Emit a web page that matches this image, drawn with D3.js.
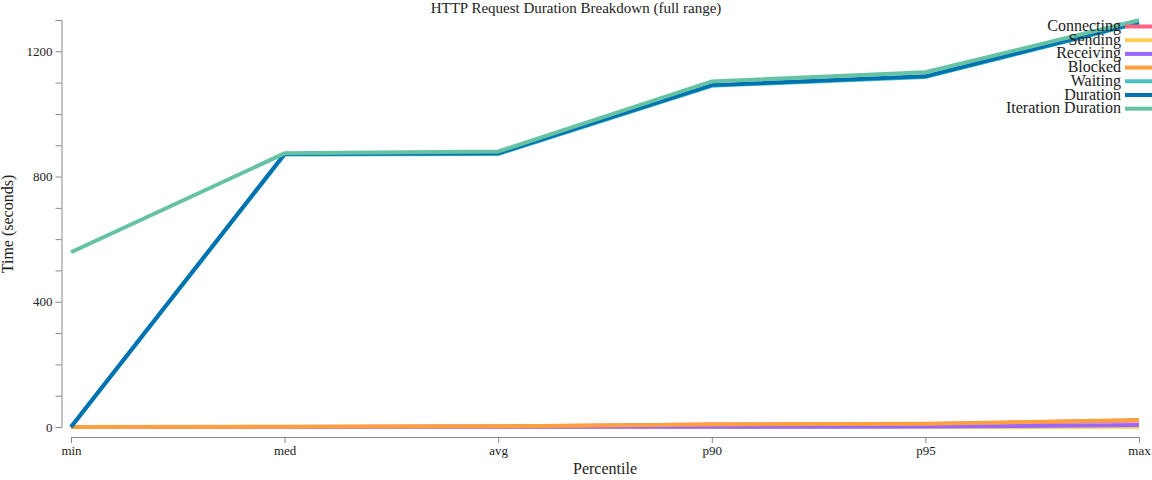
<!DOCTYPE html>
<html><head><meta charset="utf-8">
<script src="https://cdn.jsdelivr.net/npm/d3@7"></script>
<style>body{margin:0;background:#fff}svg{display:block}</style>
</head><body>
<svg id="c" width="1152" height="480"></svg>
<script>
const percentiles = ["min","med","avg","p90","p95","max"];
const seriesNames = ["Connecting","Sending","Receiving","Blocked","Waiting","Duration","Iteration Duration"];
const seriesColors = ["#ff6384","#ffcd56","#9966ff","#ff9f40","#4bc0c0","#0072b2","#66c2a5"];
const connecting = [0, 0.3, 1.5, 8, 9, 21];
const sending = [0, 0, 0, 0, 0, 0.5];
const receiving = [0, 0, 0.5, 1, 1.5, 6];
const blocked = [0, 0.5, 2, 8, 10, 22];
const waiting = [0, 870, 872, 1090, 1118, 1290];
const duration = [0, 872, 874, 1092, 1120, 1293];
const iterationDuration = [558, 874, 880, 1104, 1133, 1299];
const yTicks = [0,100,200,300,400,500,600,700,800,900,1000,1100,1200,1300];

const allSeries = [connecting, sending, receiving, blocked, waiting, duration, iterationDuration];
const svg = d3.select("#c");
const font = "'Liberation Serif', 'Times New Roman', serif";

const x = d3.scalePoint().domain(percentiles).range([71, 1139]);
const y = d3.scaleLinear().domain([0, 1300]).range([427, 20]);

const xAxis = svg.append("g").attr("transform","translate(0,437)")
  .call(d3.axisBottom(x).tickSizeOuter(0));
const yAxis = svg.append("g").attr("transform","translate(61.5,0)")
  .call(d3.axisLeft(y).tickValues(yTicks).tickFormat(d => d % 400 === 0 ? d : ""));
[xAxis, yAxis].forEach(g => {
  g.selectAll("path,line").attr("stroke","#888");
  g.selectAll("text").attr("fill","#222").style("font-family",font).style("font-size","13px");
});

const line = d3.line().x((d,i)=>x(percentiles[i])).y(d=>y(d));
allSeries.forEach((s,k)=>{
  svg.append("path").datum(s).attr("d",line).attr("fill","none")
    .attr("stroke",seriesColors[k]).attr("stroke-width",4);
});

svg.append("text").attr("x",576).attr("y",13).attr("text-anchor","middle")
  .style("font-family",font).style("font-size","15px").attr("fill","#222")
  .text("HTTP Request Duration Breakdown (full range)");
svg.append("text").attr("x",605).attr("y",474).attr("text-anchor","middle")
  .style("font-family",font).style("font-size","16px").attr("fill","#222").text("Percentile");
svg.append("text").attr("transform","translate(13,224) rotate(-90)").attr("text-anchor","middle")
  .style("font-family",font).style("font-size","16px").attr("fill","#222").text("Time (seconds)");

const lg = svg.append("g");
seriesNames.forEach((n,i)=>{
  const yy = 26 + i*13.7;
  lg.append("line").attr("x1",1125).attr("x2",1152).attr("y1",yy+0.5).attr("y2",yy+0.5)
    .attr("stroke",seriesColors[i]).attr("stroke-width",4);
  lg.append("text").attr("x",1121).attr("y",yy+5).attr("text-anchor","end")
    .style("font-family",font).style("font-size","16px").attr("fill","#222").text(n);
});
</script>
</body></html>
